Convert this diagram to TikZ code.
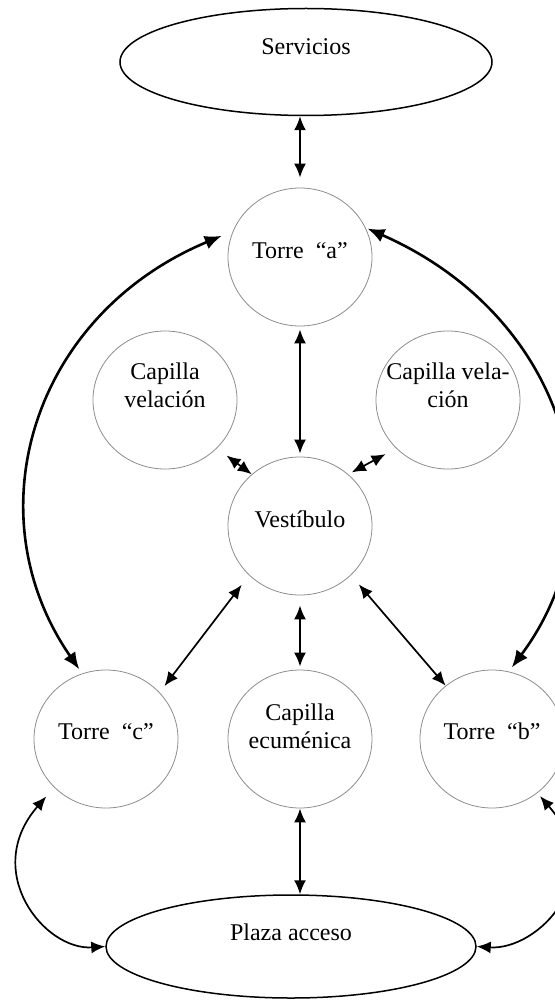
\documentclass[tikz,border=0pt]{standalone}
\usepackage{fontspec}
\setmainfont{Liberation Serif}
\usetikzlibrary{arrows.meta,shapes.geometric}

\begin{document}
\begin{tikzpicture}[x=0.5pt,y=-0.5pt,font=\fontsize{12}{14}\selectfont,
  room/.style={ellipse,draw=black!45,thin,minimum width=72pt,minimum height=69pt,inner sep=-12pt,align=center,text height=9pt},
  area/.style={ellipse,draw=black,line width=0.75pt,inner sep=-12pt,text height=9pt},
  lift/.style={text depth=#1},
  link/.style={{Latex[length=7pt,width=6pt]}-{Latex[length=7pt,width=6pt]},line width=0.85pt},
  ring/.style={{Latex[length=8.5pt,width=7pt]}-{Latex[length=8.5pt,width=7pt]},line width=1.3pt}]
\useasboundingbox (0,0) rectangle (555,1000);
\clip (0,0) rectangle (555,1000);

\node[area,minimum width=186pt,minimum height=53.5pt,lift=16.5pt] (serv) at (306,62) {Servicios};
\node[room,lift=8pt] (ta) at (300,257) {Torre~ “a”};
\node[room,lift=1.5pt] (cvl) at (165,400) {Capilla\\velación};
\node[room,lift=1.5pt] (cvr) at (448,400) {Capilla vela-\\ción};
\node[room,lift=7.5pt] (vest) at (300,526) {Vestíbulo};
\node[room,lift=8.5pt] (tc) at (106,739) {Torre~ “c”};
\node[room,lift=0pt] (ce) at (300,739) {Capilla\\ecuménica};
\node[room,lift=8.5pt] (tb) at (492,739) {Torre~ “b”};
\node[area,minimum width=185pt,minimum height=51.5pt,lift=15pt] (plaza) at (291,946.5) {Plaza acceso};

% accesos directos
\draw[link,shorten >=5pt] (ta.north |- serv.south) -- (ta.north);
\draw[link,shorten <=1.5pt,shorten >=1.5pt] (ta.south) -- (vest.north);
\draw[link,shorten <=6pt] (cvl.-43) -- (vest.133);
\draw[link,shorten <=6pt,shorten >=2pt] (cvr.-137) -- (vest.47);
\draw[link,shorten <=6pt,shorten >=4pt] (vest.-136) -- (tc.41);
\draw[link,shorten <=6pt] (vest.-44) -- (tb.131);
\draw[link,shorten <=5pt,shorten >=1.5pt] (vest.south) -- (ce.north);
\draw[link] (ce.south) -- (ce.south |- plaza.north);

% torres
\draw[ring,shorten <=2.5pt,shorten >=6pt] (tc.110) .. controls +(-110,-159) and +(-201,84) .. (ta.159);
\draw[ring,shorten <=2.5pt,shorten >=1pt] (tb.76) .. controls +(117,-157) and +(198,87) .. (ta.24);

% plaza
\draw[link,shorten <=6pt] (tc.223) .. controls +(-73,84) and +(-61,4) .. (plaza.west);
\draw[link,shorten <=2pt] (tb.-50) .. controls +(73,84) and +(61,4) .. (plaza.east);
\end{tikzpicture}
\end{document}
